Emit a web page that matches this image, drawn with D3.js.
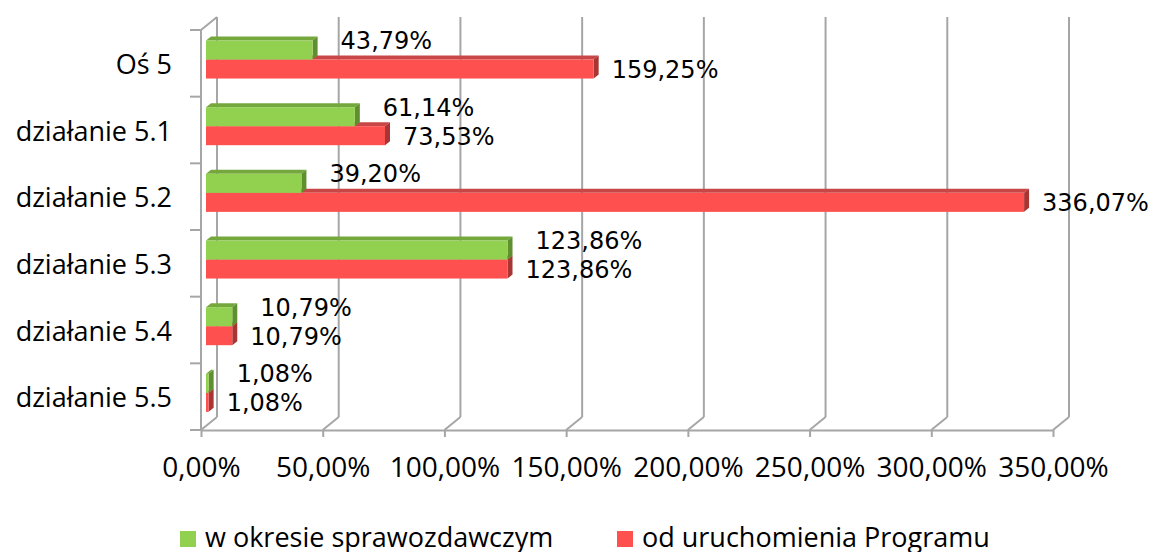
<!DOCTYPE html>
<html lang="pl">
<head>
    <meta charset="UTF-8">
    <title>Realizacja Osi 5</title>
    <style>
        body {
            margin: 0;
            padding: 0;
            background: #fff;
        }
        svg {
            display: block;
        }
        .cat text {
            font-family: "Open Sans", sans-serif;
            font-size: 27px;
            fill: #000;
        }
        .xaxis text {
            font-family: "Open Sans", sans-serif;
            font-size: 28px;
            fill: #000;
        }
        .val {
            font-family: "DejaVu Sans", sans-serif;
            font-size: 24px;
            fill: #000;
        }
        .legend text {
            font-family: "Open Sans", sans-serif;
            font-size: 27px;
            fill: #000;
        }
        .wall {
            stroke: #a6a6a6;
            stroke-width: 2;
            fill: none;
        }
    </style>
</head>
<body>
    <div id="chart"></div>

    <script src="https://d3js.org/d3.v7.min.js"></script>
    <script>
        // Dane
        const categories = ["Oś 5", "działanie 5.1", "działanie 5.2", "działanie 5.3", "działanie 5.4", "działanie 5.5"];
        const wOkresie = [43.79, 61.14, 39.20, 123.86, 10.79, 1.08];
        const odUruchomienia = [159.25, 73.53, 336.07, 123.86, 10.79, 1.08];
        const tickValues = [0, 50, 100, 150, 200, 250, 300, 350];
        const tickLabels = ["0,00%", "50,00%", "100,00%", "150,00%", "200,00%", "250,00%", "300,00%", "350,00%"];
        const seriesNames = ["w okresie sprawozdawczym", "od uruchomienia Programu"];

        const width = 1155, height = 552;

        // kolory: przód, góra, bok
        const greenCol = { front: "#92d050", top: "#74a83c", side: "#5f8f2f" };
        const redCol = { front: "#ff5050", top: "#c94646", side: "#a83434" };

        const svg = d3.select("#chart").append("svg")
            .attr("width", width)
            .attr("height", height);

        // skale (przednia krawędź podłogi)
        const x = d3.scaleLinear().domain([0, 350]).range([201, 1053]);
        const y = d3.scaleBand().domain(categories).range([30, 430]).padding(0);

        const depth = { dx: 16, dy: -13 };   // głębokość ścian
        const barOff = 5;                    // przesunięcie słupków w głąb
        const bar3d = { dx: 5, dy: -4 };     // grubość słupka

        const bw = y.bandwidth();
        const barH = bw * 0.285;
        const greenY = c => y(c) + bw * 0.158;
        const redY = c => greenY(c) + barH;

        // ściana tylna - linie siatki
        const walls = svg.append("g");
        walls.selectAll("line.grid")
            .data(tickValues)
            .enter().append("line")
            .attr("class", "wall")
            .attr("x1", d => x(d) + depth.dx)
            .attr("x2", d => x(d) + depth.dx)
            .attr("y1", 30 + depth.dy)
            .attr("y2", 430 + depth.dy);

        // podłoga - ukośne linie
        walls.selectAll("line.floor")
            .data(tickValues)
            .enter().append("line")
            .attr("class", "wall")
            .attr("x1", d => x(d))
            .attr("y1", 430)
            .attr("x2", d => x(d) + depth.dx)
            .attr("y2", 430 + depth.dy);

        // lewa ściana - górna krawędź i oś
        walls.append("line").attr("class", "wall")
            .attr("x1", x(0)).attr("y1", 30)
            .attr("x2", x(0) + depth.dx).attr("y2", 30 + depth.dy);
        walls.append("line").attr("class", "wall")
            .attr("x1", x(0)).attr("y1", 30)
            .attr("x2", x(0)).attr("y2", 430);

        // znaczniki granic kategorii
        const bounds = d3.range(categories.length + 1).map(i => 30 + i * y.step());
        walls.selectAll("line.ytick")
            .data(bounds)
            .enter().append("line")
            .attr("class", "wall")
            .attr("x1", x(0) - 11)
            .attr("x2", x(0))
            .attr("y1", d => d)
            .attr("y2", d => d);

        // oś X
        const xAxis = svg.append("g")
            .attr("class", "xaxis")
            .attr("transform", "translate(0,430)")
            .call(d3.axisBottom(x)
                .tickValues(tickValues)
                .tickFormat((d, i) => tickLabels[i])
                .tickSize(7)
                .tickSizeOuter(0)
                .tickPadding(20));
        xAxis.select(".domain").attr("stroke", "#a6a6a6").attr("stroke-width", 2);
        xAxis.selectAll(".tick line").attr("stroke", "#a6a6a6").attr("stroke-width", 2);

        // etykiety kategorii
        const catAxis = svg.append("g")
            .attr("class", "cat")
            .attr("transform", `translate(${x(0)},2)`)
            .call(d3.axisLeft(y).tickSize(0).tickPadding(29));
        catAxis.select(".domain").remove();

        // słupki 3D
        function drawBar(g, v, yy, col) {
            const x0 = x(0) + barOff;
            const x1 = x(v) + barOff;
            g.append("polygon")
                .attr("points", [[x0, yy], [x1, yy], [x1 + bar3d.dx, yy + bar3d.dy], [x0 + bar3d.dx, yy + bar3d.dy]].join(" "))
                .attr("fill", col.top);
            g.append("polygon")
                .attr("points", [[x1, yy], [x1 + bar3d.dx, yy + bar3d.dy], [x1 + bar3d.dx, yy + barH + bar3d.dy], [x1, yy + barH]].join(" "))
                .attr("fill", col.side);
            g.append("rect")
                .attr("x", x0)
                .attr("y", yy)
                .attr("width", x1 - x0)
                .attr("height", barH)
                .attr("fill", col.front);
        }

        const bars = svg.append("g");
        categories.forEach((c, i) => {
            drawBar(bars, odUruchomienia[i], redY(c), redCol);
            drawBar(bars, wOkresie[i], greenY(c), greenCol);
        });

        // etykiety wartości
        const fmt = v => d3.format(".2f")(v).replace(".", ",") + "%";
        svg.append("g").selectAll("text.g")
            .data(categories)
            .enter().append("text")
            .attr("class", "val")
            .attr("x", (c, i) => x(wOkresie[i]) + barOff + 28)
            .attr("y", c => greenY(c) + barH / 2 - 10 + 9)
            .text((c, i) => fmt(wOkresie[i]));
        svg.append("g").selectAll("text.r")
            .data(categories)
            .enter().append("text")
            .attr("class", "val")
            .attr("x", (c, i) => x(odUruchomienia[i]) + barOff + 18)
            .attr("y", c => redY(c) + barH / 2 + 9)
            .text((c, i) => fmt(odUruchomienia[i]));

        // legenda
        const legend = svg.append("g").attr("class", "legend");
        const legendItems = [
            { name: seriesNames[0], color: greenCol.front, x: 180 },
            { name: seriesNames[1], color: redCol.front, x: 617 }
        ];
        legendItems.forEach(it => {
            legend.append("rect")
                .attr("x", it.x)
                .attr("y", 531)
                .attr("width", 16)
                .attr("height", 16)
                .attr("fill", it.color);
            legend.append("text")
                .attr("x", it.x + 25)
                .attr("y", 547)
                .text(it.name);
        });
    </script>
</body>
</html>
